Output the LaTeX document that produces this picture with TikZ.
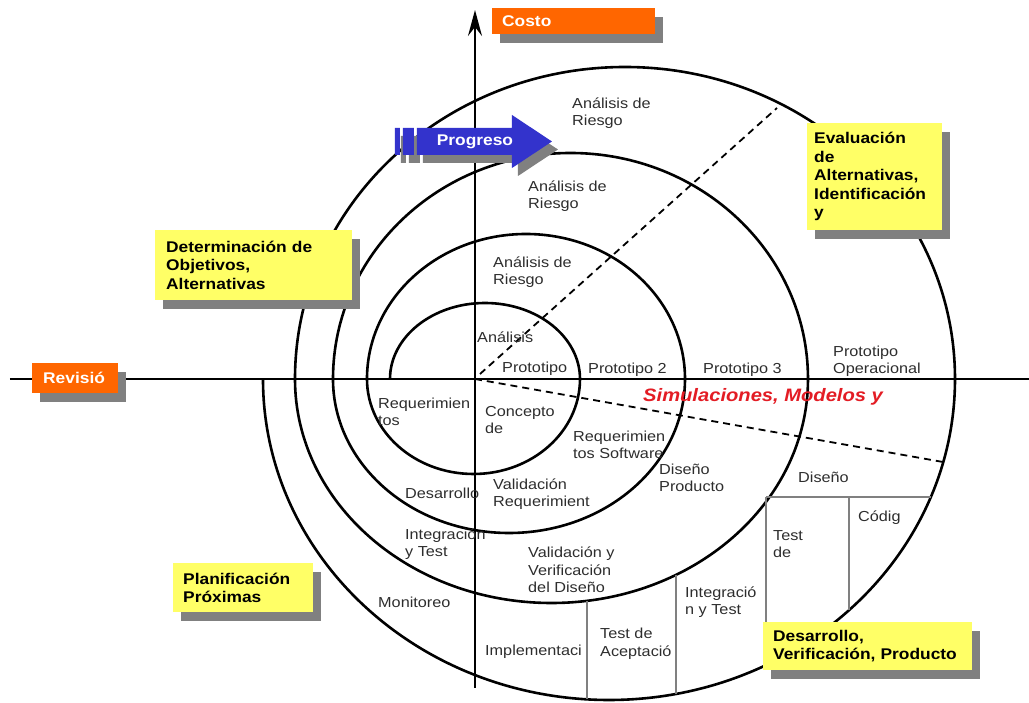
\documentclass[tikz,border=0pt]{standalone}
\usepackage{fontspec}
\setmainfont{Liberation Sans}[FakeStretch=1.12]
\usetikzlibrary{arrows.meta,shadows}

\definecolor{naranja}{RGB}{255,102,0}
\definecolor{amarillo}{RGB}{255,255,102}
\definecolor{azul}{RGB}{51,51,204}
\definecolor{sombra}{RGB}{128,128,128}
\definecolor{rojo}{RGB}{227,28,36}
\definecolor{texto}{RGB}{45,45,45}

\tikzset{
	etiqueta/.style={anchor=west, align=left, inner sep=0pt, text=texto, font=\fontsize{14.5}{17.5}\selectfont},
	caja/.style={anchor=north west, align=left, inner ysep=0pt, font=\bfseries\fontsize{15.5}{18.5}\selectfont, drop shadow={shadow xshift=8pt, shadow yshift=-9pt, opacity=1, fill=sombra}},
	cajaamarilla/.style={caja, fill=amarillo, text=black},
	cajanaranja/.style={caja, fill=naranja, text=white},
	espiral/.style={line width=2.6pt},
	eje/.style={line width=2pt},
	division/.style={line width=1.3pt, color=sombra},
	guia/.style={line width=1.8pt, dash pattern=on 7pt off 5pt},
}

\begin{document}
\begin{tikzpicture}[x=1pt, y=1pt]
			%%%%% START %%%%%
			\useasboundingbox (-475,-324) rectangle (554,379);
			\coordinate (O) at (0,0);
			
			\draw[eje] (-465,0) -- (554,0);
			\draw[eje, -{Stealth[length=26pt, width=14pt, inset=9pt]}] (0,-309) -- (0,369);
			
			\draw[espiral] (-85,0) arc (180:0:95 and 76) arc (0:-180:106.5 and 95)
				arc (180:0:159 and 145) arc (0:-180:176 and 154)
				arc (180:0:237.5 and 226) arc (0:-180:256.5 and 224)
				arc (180:0:330 and 312) arc (0:-180:346 and 321);
			
			\draw[guia] (5,5) -- (302,271);
			\draw[guia] (O) -- (468,-83);
			
			\draw[division] (112,-222) -- (112,-320);
			\draw[division] (201,-196) -- (201,-315);
			\draw[division] (291,-118) -- (456,-118);
			\draw[division] (291,-118) -- (291,-287);
			\draw[division] (374,-118) -- (374,-231);
			
			\fill[azul, drop shadow={shadow xshift=6pt, shadow yshift=-8pt, opacity=1, fill=sombra}]
				(-58,251) -- (37,251) -- (37,264) -- (77,237.5) -- (37,211) -- (37,224) -- (-58,224) -- cycle
				(-80,251) rectangle (-75,224) (-72,251) rectangle (-61,224);
			\node[text=white, font=\bfseries\fontsize{15.5}{18}\selectfont] (progreso) at (0,237.5) {Progreso};
			
			\node[cajanaranja, minimum width=163pt, minimum height=26pt, text width=143pt, inner xsep=10pt] (costo) at (17,371) {Costo};
			\node[cajanaranja, minimum width=86pt, minimum height=30pt, text width=64pt, inner xsep=11pt] (revision) at (-443,16) {Revisió};
			
			\node[cajaamarilla, minimum width=197pt, minimum height=70pt, text width=175pt, inner xsep=11pt] (objetivos) at (-320,149) {Determinación de\\Objetivos,\\Alternativas};
			\node[cajaamarilla, minimum width=135pt, minimum height=107pt, text width=121pt, inner xsep=7pt] (evaluacion) at (332,256) {Evaluación\\de\\Alternativas,\\Identificación\\y};
			\node[cajaamarilla, minimum width=140pt, minimum height=49pt, text width=120pt, inner xsep=10pt] (planificacion) at (-302,-184) {Planificación\\Próximas};
			\node[cajaamarilla, minimum width=209pt, minimum height=48pt, text width=189pt, inner xsep=10pt] (desarrollo) at (288,-243) {Desarrollo,\\Verificación, Producto};
			
			\node[etiqueta] (riesgo4) at (97,266) {Análisis de\\Riesgo};
			\node[etiqueta] (riesgo3) at (53,183) {Análisis de\\Riesgo};
			\node[etiqueta] (riesgo2) at (18,107) {Análisis de\\Riesgo};
			\node[etiqueta] (analisis) at (2,42) {Análisis};
			\node[etiqueta] (proto1) at (27,10) {Prototipo};
			\node[etiqueta] (proto2) at (113,9) {Prototipo 2};
			\node[etiqueta] (proto3) at (228,9) {Prototipo 3};
			\node[etiqueta] (protoop) at (358,17.5) {Prototipo\\Operacional};
			\node[anchor=west, inner sep=0pt, text=rojo, font=\bfseries\itshape\fontsize{18}{20}\selectfont] (simulaciones) at (168,-18) {Simulaciones, Modelos y};
			
			\node[etiqueta] (req) at (-97,-33) {Requerimien\\tos};
			\node[etiqueta] (concepto) at (10,-41) {Concepto\\de};
			\node[etiqueta] (reqsw) at (98,-66) {Requerimien\\tos Software};
			\node[etiqueta] (disprod) at (184,-99) {Diseño\\Producto};
			\node[etiqueta] (valreq) at (18,-115) {Validación\\Requerimient};
			\node[etiqueta] (desarr) at (-70,-114) {Desarrollo};
			\node[etiqueta] (integ) at (-70,-165) {Integración\\y Test};
			\node[etiqueta] (valver) at (53,-191) {Validación y\\Verificación\\del Diseño};
			\node[etiqueta] (monitoreo) at (-97,-223) {Monitoreo};
			\node[etiqueta] (impl) at (10,-273) {Implementaci};
			\node[etiqueta] (aceptacion) at (125,-265) {Test de\\Aceptació};
			\node[etiqueta] (integtest) at (210,-223) {Integració\\n y Test};
			\node[etiqueta] (testde) at (298,-165) {Test\\de};
			\node[etiqueta] (codigo) at (383,-139) {Códig};
			\node[etiqueta] (diseno) at (323,-98) {Diseño};
			%%%%% END %%%%%
\end{tikzpicture}
\end{document}
